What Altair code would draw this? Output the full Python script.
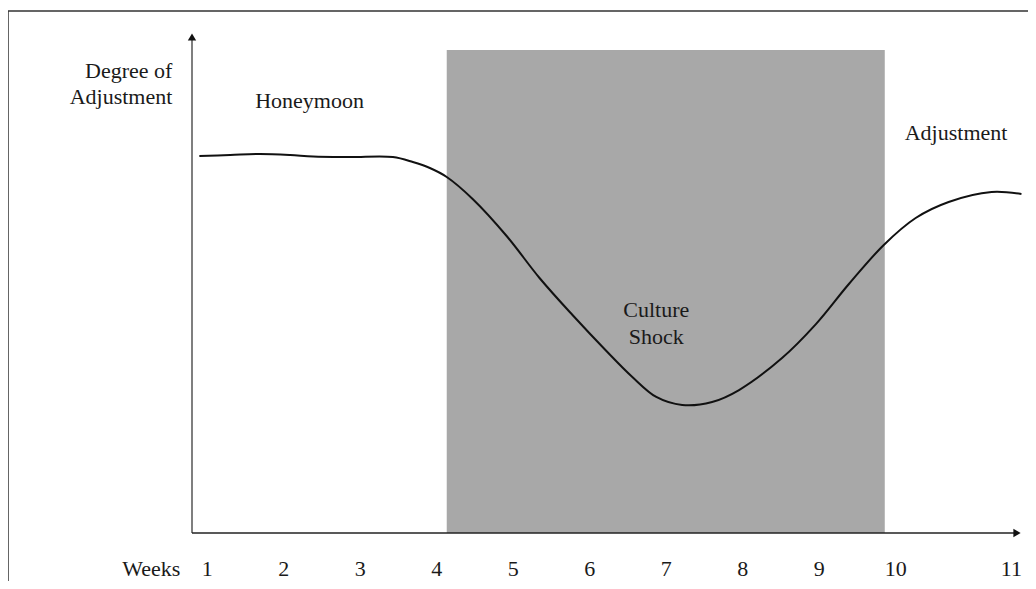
import altair as alt
import pandas as pd

# ---- data ----
curve_week = [0.896, 1.300, 1.691, 2.083, 2.383, 2.865, 3.426, 3.687, 3.909, 4.130,
              4.469, 4.913, 5.343, 5.774, 6.217, 6.556, 6.869, 7.208, 7.599, 7.951,
              8.513, 8.956, 9.387, 9.843, 10.260, 10.691, 11.252, 11.643]
curve_adjustment = [75.25, 75.45, 75.65, 75.45, 75.15, 75.05, 75.05, 74.05, 72.85, 71.06,
                    66.67, 59.28, 50.90, 43.51, 36.33, 31.14, 27.15, 25.55, 26.15, 28.54,
                    34.93, 41.70, 49.70, 57.49, 62.87, 66.07, 68.06, 67.66]

tick_labels = ["1", "2", "3", "4", "5", "6", "7", "8", "9", "10", "11"]
tick_positions = [1, 2, 3, 4, 5, 6, 7, 8, 9, 10, 11.51]

shock_start = 4.13
shock_end = 9.856
shock_top = 96.4

phase_left_labels = ["Honeymoon", "Adjustment"]
phase_left_x = [1.626, 10.117]
phase_left_y = [84.8, 78.4]

shock_label_lines = ["Culture", "Shock"]
shock_label_x = [6.869, 6.869]
shock_label_y = [43.1, 37.7]

ylabel_lines = ["Degree of", "Adjustment", "Weeks"]
ylabel_x = [0.543, 0.543, 0.648]
ylabel_y = [90.8, 85.6, -8.5]

FONT = "Liberation Serif"
FS = 22
TXT = "#1a1a1a"

X = alt.Scale(domain=[0.8, 11.65], nice=False, zero=False)
Y = alt.Scale(domain=[0, 100], nice=False, zero=False)

frame = alt.Chart(pd.DataFrame({"a": [0]})).mark_rect(
    fillOpacity=0, stroke="#333333", strokeWidth=1.5
).encode(x=alt.value(-184), x2=alt.value(1000), y=alt.value(-21), y2=alt.value(800))

shade = alt.Chart(pd.DataFrame({
    "x": [shock_start], "x2": [shock_end], "y": [0], "y2": [shock_top]
})).mark_rect(color="#a8a8a8").encode(
    x=alt.X("x:Q", scale=X, axis=None), x2="x2",
    y=alt.Y("y:Q", scale=Y, axis=None), y2="y2"
)

curve = alt.Chart(pd.DataFrame({"week": curve_week, "adj": curve_adjustment})).mark_line(
    color="#111111", strokeWidth=2, interpolate="catmull-rom"
).encode(
    x=alt.X("week:Q", scale=X, axis=None),
    y=alt.Y("adj:Q", scale=Y, axis=None),
    order=alt.Order("week:Q")
)

y_axis = alt.Chart(pd.DataFrame({"a": [0]})).mark_rule(color="#555555", strokeWidth=1.5).encode(
    x=alt.value(0), y=alt.value(8), y2=alt.value(501)
)
y_arrow = alt.Chart(pd.DataFrame({"a": [0]})).mark_point(
    shape="triangle-up", filled=True, color="#111111", size=70, opacity=1
).encode(x=alt.value(0), y=alt.value(5))

x_axis = alt.Chart(pd.DataFrame({"a": [0]})).mark_rule(color="#222222", strokeWidth=1.5).encode(
    x=alt.value(0), x2=alt.value(822), y=alt.value(501)
)
x_arrow = alt.Chart(pd.DataFrame({"a": [0]})).mark_point(
    shape="triangle-right", filled=True, color="#111111", size=70, opacity=1
).encode(x=alt.value(825), y=alt.value(501))


def text_layer(labels, xs, ys, align):
    df = pd.DataFrame({"label": labels, "x": xs, "y": ys})
    return alt.Chart(df).mark_text(
        align=align, baseline="alphabetic", font=FONT, fontSize=FS, color=TXT
    ).encode(
        x=alt.X("x:Q", scale=X, axis=None),
        y=alt.Y("y:Q", scale=Y, axis=None),
        text="label:N"
    )


ticks = text_layer(tick_labels, tick_positions, [-8.5] * len(tick_labels), "center")
phases = text_layer(phase_left_labels, phase_left_x, phase_left_y, "left")
shock = text_layer(shock_label_lines, shock_label_x, shock_label_y, "center")
ylab = text_layer(ylabel_lines, ylabel_x, ylabel_y, "right")

chart = alt.layer(
    frame, shade, curve, y_axis, y_arrow, x_axis, x_arrow, ticks, phases, shock, ylab
).properties(
    width=830, height=501,
    autosize=alt.AutoSizeParams(type="none"),
    padding={"left": 184, "top": 24, "right": 6, "bottom": 48},
    background="white"
).configure_view(strokeWidth=0)

chart.save("out.html", embed_options={"renderer": "svg", "actions": False})
